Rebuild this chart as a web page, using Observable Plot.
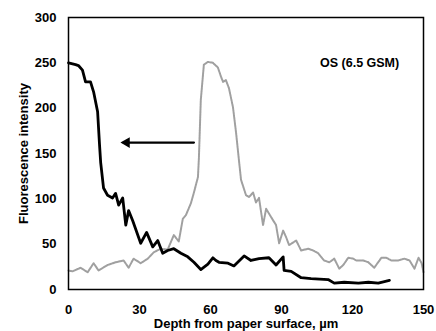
<!DOCTYPE html>
<html><head><meta charset="utf-8">
<script src="https://cdn.jsdelivr.net/npm/d3@7"></script>
<script src="https://cdn.jsdelivr.net/npm/@observablehq/plot@0.6"></script>
<style>body{margin:0;background:#fff}</style>
</head><body><div id="chart"></div>
<script>
const blackDepth = [0,3,4.2,5.9,7.2,9.3,10.6,12.3,13.1,13.6,14.8,16.5,18.6,19.9,21.2,22.9,24.2,25.4,27.1,30.5,33,35.6,37.7,39.8,41.9,44.5,47.5,50.4,53,55.9,58.9,61,62.3,63.6,67.4,69.9,74.2,77.1,80.5,84.7,87.7,90.7,91.1,94.1,98.3,102.5,109.7,112.3,116.5,122.5,126.7,130.9,135.6];
const blackValue = [250,248,247,242,229,229,218,196,160,140,112,104,101,106,93,101,71,87,76,51,63,47,54,40,43,45,40,36,30,22,28,35,32,30,29,26,37,32,34,35,27,36,21,20,13,12,11,7,8,7,8,7,10];
const grayDepth = [0,1.7,5.1,8.1,10.6,12.7,16.5,19.9,23.3,25.4,27.5,30.5,33.5,36,39,41.9,43.2,44.5,46.6,48.3,49.6,51.7,53,54.7,55.1,55.9,57.2,58.9,61,63.1,64.4,65.3,66.5,67.8,69.5,70.8,72,72.9,75,76.3,78,79.2,80.5,82.2,83.5,85.6,87.7,89,90.7,91.9,93.2,96.2,98.3,101.3,103.4,105.5,108,110.2,112.3,114.4,116.1,118.2,120.3,121.6,124.6,126.7,129.2,132.2,134.3,136.4,139.4,141.9,144.1,146.2,147.9,149.2,150];
const grayValue = [21,20,24,19,29,21,27,30,32,24,34,29,34,41,45,44,52,60,53,78,82,95,107,124,145,209,248,251,250,245,235,229,231,222,201,173,143,121,104,102,107,96,101,71,89,80,71,51,65,58,49,54,43,45,43,40,32,30,34,23,27,35,34,32,32,30,24,35,35,32,32,34,32,23,35,29,19];
const arrowDepth = [53, 23.3];
const arrowValue = [162, 162];
const labelText = ["OS (6.5 GSM)"];
const labelDepth = [123];
const labelValue = [250];
const xTicks = [0,30,60,90,120,150];
const yTicks = [0,50,100,150,200,250,300];

const black = blackDepth.map((d,i)=>({x:d,y:blackValue[i]}));
const gray = grayDepth.map((d,i)=>({x:d,y:grayValue[i]}));
const arrow = arrowDepth.map((d,i)=>({x:d,y:arrowValue[i]}));
const label = labelText.map((t,i)=>({t, x:labelDepth[i], y:labelValue[i]}));

const chart = Plot.plot({
  width: 436, height: 331,
  marginLeft: 68, marginRight: 13, marginTop: 17, marginBottom: 42,
  style: {fontFamily: "'Liberation Sans', Arial, sans-serif", fontWeight: "bold", color: "black", background: "white"},
  x: {domain: [0,150]},
  y: {domain: [0,300]},
  marks: [
    Plot.axisX({ticks: xTicks, tickSize: 0, tickPadding: 15, fontSize: 13, fontWeight: "bold", fill: "black",
      label: "Depth from paper surface, µm", labelAnchor: "center", labelOffset: 38, labelArrow: "none"}),
    Plot.axisY({ticks: yTicks, tickSize: 0, tickPadding: 12, fontSize: 13, fontWeight: "bold", fill: "black",
      label: "Fluorescence intensity", labelAnchor: "center", labelOffset: 50, labelArrow: "none"}),
    Plot.line(gray, {x:"x", y:"y", stroke:"#a0a0a0", strokeWidth:2, strokeDasharray:"2,0.6"}),
    Plot.line(black, {x:"x", y:"y", stroke:"black", strokeWidth:2.8}),
    Plot.line(arrow, {x:"x", y:"y", stroke:"black", strokeWidth:2.2}),
    Plot.dot(arrow.slice(1), {x:"x", y:"y", symbol:"triangle", r:4, rotate:-90, fill:"black", stroke:"none", dx:3}),
    Plot.text(label, {x:"x", y:"y", text:"t", fontSize:12.5, fontWeight:"bold", fill:"black"}),
    Plot.frame({stroke:"black", strokeWidth:1.5})
  ]
});
document.getElementById("chart").append(chart);
</script>
</body></html>
